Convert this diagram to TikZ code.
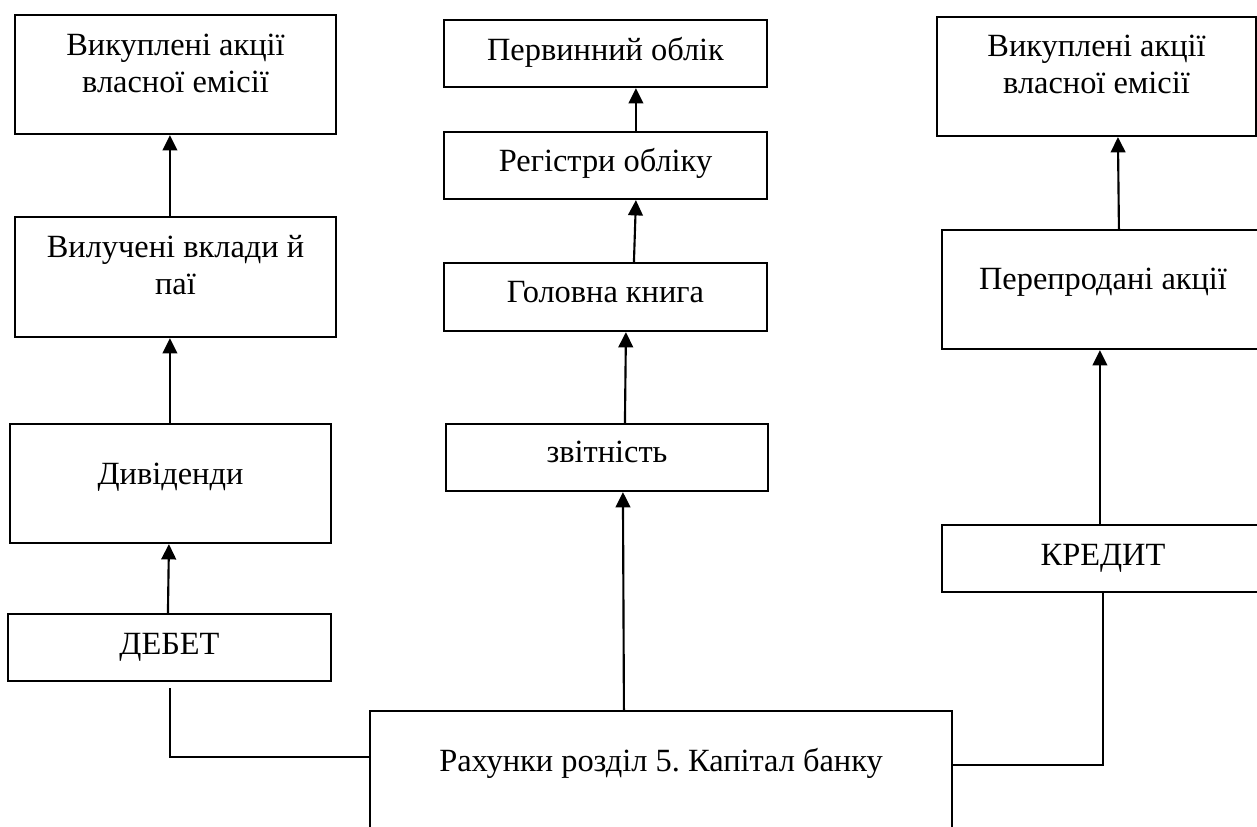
\documentclass[tikz,border=0pt]{standalone}
\usepackage{fontspec}
\setmainfont{Liberation Serif}
\usetikzlibrary{calc,arrows.meta,fit}
\frenchspacing
\begin{document}
\begin{tikzpicture}[x=0.75pt,y=-0.75pt,
  box/.style={draw, line width=1.6pt, inner sep=0pt, rectangle},
  txt/.style={font=\fontsize{24.3}{27.75}\selectfont, align=center, inner sep=0pt, anchor=base},
  arr/.style={line width=1.6pt, -{Triangle[length=11.5pt,width=11pt]}},
  ln/.style={line width=1.6pt}]
\useasboundingbox (0,0) rectangle (1257,826);
\clip (0,0) rectangle (1257,826);

% left column
\node[box, fit={(15,15) (336,134)}] (L1) {};
\node[box, fit={(15,217) (336,337)}] (L2) {};
\node[box, fit={(10,424) (331,543)}] (L3) {};
\node[box, fit={(8,614) (331,681)}] (L4) {};
% middle column
\node[box, fit={(444,20) (767,87)}] (C1) {};
\node[box, fit={(444,132) (767,199)}] (C2) {};
\node[box, fit={(444,263) (767,331)}] (C3) {};
\node[box, fit={(446,424) (768,491)}] (C4) {};
\node[box, fit={(370,711) (952,880)}] (M) {};
% right column
\node[box, fit={(937,17) (1256,136)}] (R1) {};
\node[box, fit={(942,230) (1264,349)}] (R2) {};
\node[box, fit={(942,525) (1264,592)}] (R3) {};

% texts (multi-line texts are placed by the baseline of their last line)
\node[txt] (tL1) at ($(L1.north)+(0,79)$) {Викуплені акції\\власної емісії};
\node[txt] (tL2) at ($(L2.north)+(0,79)$) {Вилучені вклади й\\паї};
\node[txt] (tL3) at ($(L3.north)+(0,62)$) {Дивіденди};
\node[txt] (tL4) at ($(L4.north)+(0,42)$) {ДЕБЕТ};
\node[txt] (tC1) at ($(C1.north)+(0,42)$) {Первинний облік};
\node[txt] (tC2) at ($(C2.north)+(0,41)$) {Регістри обліку};
\node[txt] (tC3) at ($(C3.north)+(0,41)$) {Головна книга};
\node[txt] (tC4) at ($(C4.north)+(0,40)$) {звітність};
\node[txt] (tM) at ($(M.north)+(0,62)$) {Рахунки розділ 5. Капітал банку};
\node[txt] (tR1) at ($(R1.north)+(0,78)$) {Викуплені акції\\власної емісії};
\node[txt] (tR2) at ($(R2.north)+(0,61)$) {Перепродані акції};
\node[txt] (tR3) at ($(R3.north)+(0,42)$) {КРЕДИТ};

% left arrows
\draw[arr] ($(L2.north west)+(156,0)$) -- ($(L1.south west)+(156,0)$);
\draw[arr] ($(L3.north west)+(161,0)$) -- ($(L2.south west)+(156,0)$);
\draw[arr] ($(L4.north west)+(161,0)$) -- ($(L3.south west)+(160,0)$);
% middle arrows
\draw[arr] ($(C2.north west)+(193,0)$) -- ($(C1.south west)+(193,0)$);
\draw[arr] ($(C3.north west)+(191,0)$) -- ($(C2.south west)+(193,0)$);
\draw[arr] ($(C4.north west)+(180,0)$) -- ($(C3.south west)+(183,0)$);
\draw[arr] ($(M.north west)+(255,0)$) -- ($(C4.south west)+(178,0)$);
% right arrows
\draw[arr] ($(R2.north west)+(178,0)$) -- ($(R1.south west)+(182,0)$);
\draw[arr] ($(R3.north west)+(159,0)$) -- ($(R2.south west)+(159,0)$);

% connectors from the account box
\draw[ln] ($(L4.south west)+(163,6)$) |- ($(M.north west)+(0,47)$);
\draw[ln] ($(R3.south west)+(162,0)$) |- ($(M.north east)+(0,55)$);
\end{tikzpicture}
\end{document}
